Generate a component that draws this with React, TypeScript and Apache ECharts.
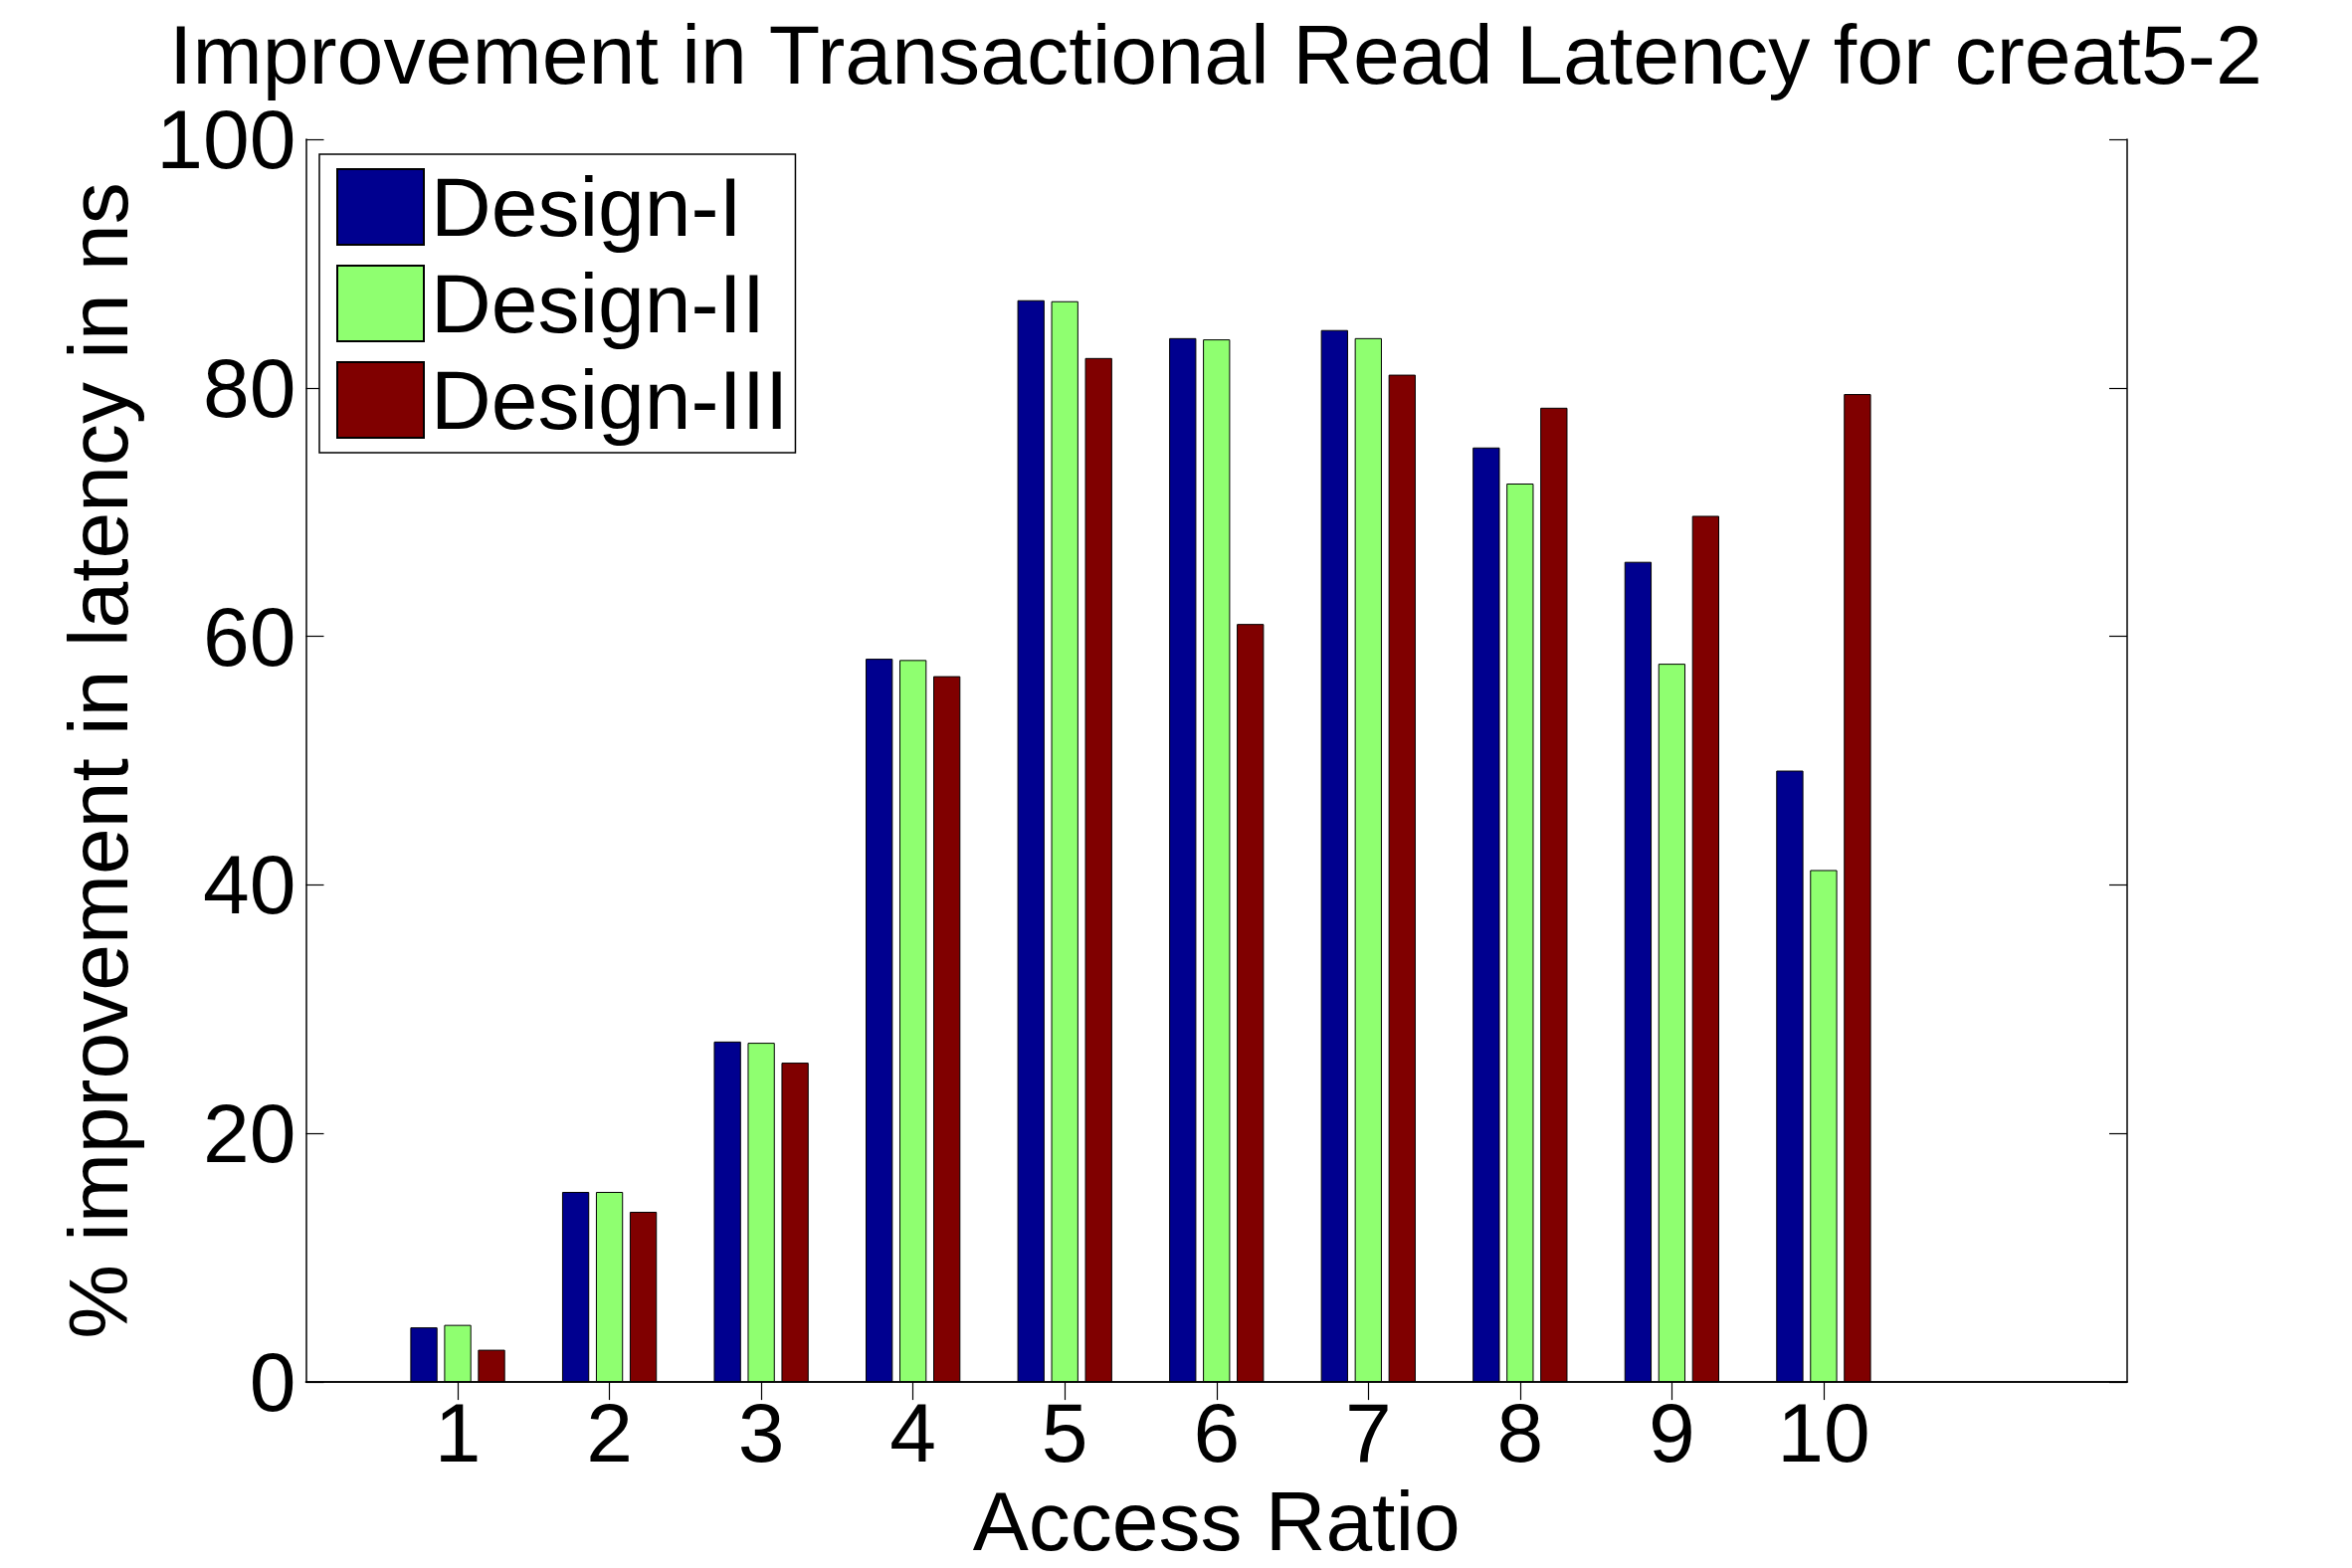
import React, { useEffect, useRef } from "react";
import * as echarts from "echarts";

const categories = ["0", "1", "2", "3", "4", "5", "6", "7", "8", "9", "10", "11", "12"];
const designI = [4.4, 15.3, 27.4, 58.2, 87.05, 84.0, 84.65, 75.2, 66.0, 49.2];
const designII = [4.6, 15.3, 27.3, 58.1, 86.97, 83.9, 84.0, 72.3, 57.8, 41.2];
const designIII = [2.6, 13.7, 25.7, 56.8, 82.4, 61.0, 81.06, 78.4, 69.7, 79.5];
const seriesNames = ["Design-I", "Design-II", "Design-III"];
const colors = ["#00008f", "#8fff70", "#800000"];
const yTicks = { min: 0, max: 100, interval: 20 };

const FONT = "'Liberation Sans', Arial, sans-serif";

const pad = (arr: number[]) => [null, ...arr, null, null];
const labelled = (i: number) => i >= 1 && i <= 10;

export default function App() {
  const ref = useRef<HTMLDivElement>(null);
  useEffect(() => {
    const chart = echarts.init(ref.current!, null, { renderer: "svg", width: 2364, height: 1576 });
    const axisLine = { show: true, lineStyle: { color: "#000", width: 1.5 } };
    const tick = { show: true, inside: true, length: 18, lineStyle: { color: "#000", width: 1.2 } };
    const labelStyle = { color: "#000", fontSize: 84, fontFamily: FONT };
    const data = [designI, designII, designIII];
    chart.setOption({
      animation: false,
      backgroundColor: "#fff",
      title: {
        text: "Improvement in Transactional Read Latency for creat5-2",
        left: 165,
        top: 8,
        textStyle: { color: "#000", fontSize: 84.3, fontWeight: "normal", fontFamily: FONT },
      },
      legend: {
        orient: "vertical",
        left: 321,
        top: 155,
        itemWidth: 87,
        itemHeight: 76,
        itemGap: 13,
        padding: [11, 7, 11, 17],
        borderColor: "#000",
        borderWidth: 1.5,
        backgroundColor: "#fff",
        icon: "rect",
        textStyle: { color: "#000", fontSize: 84, fontFamily: FONT, padding: [0, 0, 0, 2] },
        data: seriesNames,
      },
      grid: { left: 307.5, width: 1830.5, top: 140, height: 1254 },
      xAxis: [
        {
          type: "category",
          data: categories,
          boundaryGap: false,
          position: "bottom",
          axisLine,
          axisTick: { ...tick, interval: (i: number) => labelled(i) },
          axisLabel: { ...labelStyle, margin: 9, interval: (i: number) => labelled(i) },
          name: "Access Ratio",
          nameLocation: "middle",
          nameGap: 80,
          nameTextStyle: labelStyle,
        },
        {
          type: "category",
          data: categories,
          boundaryGap: false,
          position: "top",
          axisLine,
          axisTick: { ...tick, interval: (i: number) => labelled(i) },
          axisLabel: { show: false },
        },
      ],
      yAxis: [
        {
          type: "value",
          ...yTicks,
          position: "left",
          axisLine,
          axisTick: tick,
          splitLine: { show: false },
          axisLabel: { ...labelStyle, margin: 10 },
          name: "% improvement in latency in ns",
          nameLocation: "middle",
          nameGap: 167,
          nameRotate: 90,
          nameTextStyle: labelStyle,
        },
        {
          type: "value",
          ...yTicks,
          position: "right",
          axisLine,
          axisTick: tick,
          splitLine: { show: false },
          axisLabel: { show: false },
        },
      ],
      series: seriesNames.map((name, k) => ({
        name,
        type: "bar",
        xAxisIndex: 0,
        yAxisIndex: 0,
        data: pad(data[k]),
        barWidth: 27.3,
        barGap: "24.5%",
        itemStyle: { color: colors[k], borderColor: "#000", borderWidth: 1 },
      })),
    });
    return () => chart.dispose();
  }, []);
  return (
    <div
      ref={ref}
      style={{ position: "absolute", left: 0, top: 0, width: 2364, height: 1576, background: "#fff" }}
    />
  );
}
